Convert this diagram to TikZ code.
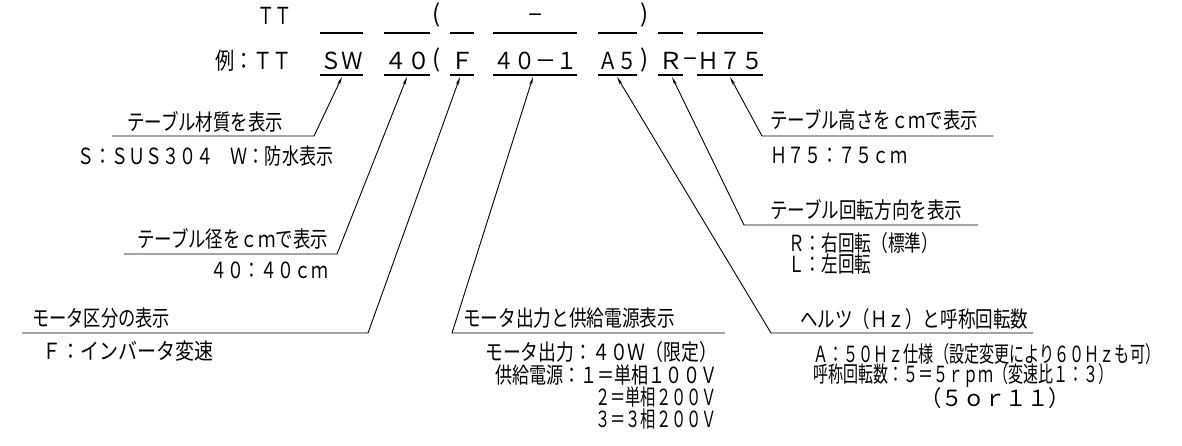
\documentclass[tikz,border=0pt]{standalone}
\usepackage{fontspec}
\setmainfont{Noto Sans CJK JP}
\usetikzlibrary{arrows.meta}
\newcommand\fitw[2]{\resizebox{#1pt}{1.17\height}{#2}}
\begin{document}
\begin{tikzpicture}[x=1pt,y=-1pt,
  lbl/.style={anchor=west,inner sep=0pt,font=\fontsize{19}{19}\selectfont},
  code/.style={anchor=west,inner sep=0pt,font=\fontsize{20}{20}\selectfont},
  sym/.style={anchor=center,inner sep=0pt,font=\fontsize{24}{24}\selectfont},
  uline/.style={line width=1.3pt},
  leader/.style={line width=0.9pt,-{Stealth[length=8pt,width=3pt]}}]
\useasboundingbox (0,0) rectangle (1182,445);
% ---- top row (template)
\node[code] (tTT) at (257,16) {\fitw{35}{ＴＴ}};
\node[sym] (tLP) at (437,15) {(};
\node[code,anchor=center] (tMI) at (535,19) {\fitw{16}{－}};
\node[sym] (tRP) at (645,15) {)};
\foreach \a/\b in {320/363,384/430,450/474,493/577,598/637,658/683,697/763}
  \draw[uline] (\a,33) -- (\b,33);
% ---- example row
\node[code] (eTT) at (215,61) {\fitw{77}{例：ＴＴ}};
\node[code] (eSW) at (320,61) {\fitw{43}{ＳＷ}};
\node[code] (e40) at (384,61) {\fitw{46}{４０}};
\node[sym]  (eLP) at (437,60) {(};
\node[code] (eF)  at (450,61) {\fitw{24}{Ｆ}};
\node[code] (e401) at (493,61) {\fitw{84}{４０－１}};
\node[code] (eA5) at (598,61) {\fitw{39}{Ａ５}};
\node[sym]  (eRP) at (645,60) {)};
\node[code] (eR)  at (658,61) {\fitw{25}{Ｒ}};
\node[code,anchor=center] (eMI) at (690,63) {\fitw{16}{－}};
\node[code] (eH)  at (697,61) {\fitw{66}{Ｈ７５}};
\foreach \a/\b in {320/363,384/430,450/474,493/577,598/637,658/683,697/763}
  \draw[uline] (\a,75) -- (\b,75);
% arrow tips
\coordinate (tipSW) at (342,77);
\coordinate (tip40) at (407,77);
\coordinate (tipF) at (460,77);
\coordinate (tip401) at (533,77);
\coordinate (tipA5) at (617,77);
\coordinate (tipR) at (672,77);
\coordinate (tipH) at (730,77);
% ---- label 1: material
\node[lbl] (m1) at (127,122) {\fitw{156}{テーブル材質を表示}};
\node[lbl] (m2) at (77,156) {\fitw{256}{Ｓ：ＳＵＳ３０４　Ｗ：防水表示}};
\coordinate (m1a) at (112,136); \coordinate (m1b) at (314,136);
\draw[leader] (m1a) -- (m1b) -- (tipSW);
% ---- label 2: diameter
\node[lbl] (d1) at (137,239) {\fitw{191}{テーブル径をｃｍで表示}};
\node[lbl] (d2) at (210,270) {\fitw{118}{４０：４０ｃｍ}};
\coordinate (d1a) at (124,254); \coordinate (d1b) at (337,254);
\draw[leader] (d1a) -- (d1b) -- (tip40);
% ---- label 3: motor type
\node[lbl] (f1) at (32,318) {\fitw{138}{モータ区分の表示}};
\node[lbl] (f2) at (42,351) {\fitw{171}{Ｆ：インバータ変速}};
\coordinate (f1a) at (22,333); \coordinate (f1b) at (368,333);
\draw[leader] (f1a) -- (f1b) -- (tipF);
% ---- label 4: motor output
\node[lbl] (p1) at (463,318) {\fitw{212}{モータ出力と供給電源表示}};
\node[lbl] (p2) at (485,352) {\fitw{232}{モータ出力：４０Ｗ（限定）}};
\node[lbl] (p3) at (495,375) {\fitw{222}{供給電源：１＝単相１００Ｖ}};
\node[lbl] (p4) at (595,397) {\fitw{122}{２＝単相２００Ｖ}};
\node[lbl] (p5) at (595,419) {\fitw{122}{３＝３相２００Ｖ}};
\coordinate (p1a) at (725,333); \coordinate (p1b) at (452,333);
\draw[leader] (p1a) -- (p1b) -- (tip401);
% ---- label 5: frequency
\node[lbl] (h1) at (800,319) {\fitw{228}{ヘルツ（Ｈｚ）と呼称回転数}};
\node[lbl] (h2) at (813,354) {\fitw{347}{Ａ：５０Ｈｚ仕様（設定変更により６０Ｈｚも可）}};
\node[lbl] (h3) at (813,376) {\fitw{300}{呼称回転数：５＝５ｒｐｍ（変速比１：３）}};
\node[lbl] (h4) at (920,398) {\fitw{150}{（５ｏｒ１１）}};
\coordinate (h1a) at (1033,333); \coordinate (h1b) at (771,333);
\draw[leader] (h1a) -- (h1b) -- (tipA5);
% ---- label 6: rotation
\node[lbl] (r1) at (770,210) {\fitw{192}{テーブル回転方向を表示}};
\node[lbl] (r2) at (788,243) {\fitw{150}{Ｒ：右回転（標準）}};
\node[lbl] (r3) at (788,264) {\fitw{83}{Ｌ：左回転}};
\coordinate (r1a) at (978,225); \coordinate (r1b) at (744,225);
\draw[leader] (r1a) -- (r1b) -- (tipR);
% ---- label 7: height
\node[lbl] (k1) at (770,120) {\fitw{208}{テーブル高さをｃｍで表示}};
\node[lbl] (k2) at (770,155) {\fitw{137}{Ｈ７５：７５ｃｍ}};
\coordinate (k1a) at (993,136); \coordinate (k1b) at (762,136);
\draw[leader] (k1a) -- (k1b) -- (tipH);
\end{tikzpicture}
\end{document}
